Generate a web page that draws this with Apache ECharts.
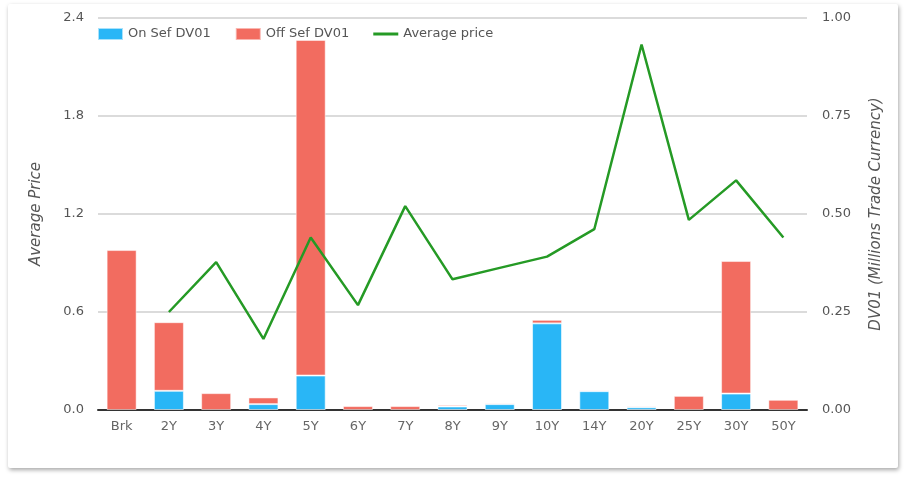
<!DOCTYPE html>
<html>
<head>
<meta charset="utf-8">
<script src="https://cdn.jsdelivr.net/npm/echarts@6/dist/echarts.min.js"></script>
<style>
  html, body { margin:0; padding:0; background:#fff; }
  #card { position:absolute; left:8px; top:4px; width:890px; height:464px; background:#fff;
          border-radius:2px; box-shadow: 1px 2px 4px rgba(0,0,0,0.35); }
  #chart { width:890px; height:464px; }
</style>
</head>
<body>
<div id="card"><div id="chart"></div></div>
<script>
var categories = ['Brk','2Y','3Y','4Y','5Y','6Y','7Y','8Y','9Y','10Y','14Y','20Y','25Y','30Y','50Y'];
// DV01, millions of trade currency
var onSef  = ['-', 0.049, '-', 0.015, 0.088, '-', '-', 0.009, 0.015, 0.221, 0.048, 0.007, '-', 0.042, '-'];
var offSef = [0.408, 0.175, 0.043, 0.017, 0.856, 0.010, 0.010, 0.004, 0.003, 0.009, 0.003, 0.003, 0.036, 0.338, 0.026];
// average price, first bucket has none
var avgPrice = ['-', 0.60, 0.905, 0.435, 1.056, 0.642, 1.248, 0.80, 0.87, 0.939, 1.107, 2.238, 1.164, 1.406, 1.056];

var leftTicks = { min: 0, max: 2.4, interval: 0.6 };
var rightTicks = { min: 0, max: 1, interval: 0.25 };

var font = 'DejaVu Sans';
var myChart = echarts.init(document.getElementById('chart'));
var option = {
    animation: false,
    textStyle: { fontFamily: font },
    legend: {
        left: 84, top: 18,
        itemWidth: 25, itemHeight: 12, itemGap: 24,
        textStyle: { fontFamily: font, fontSize: 13, color: '#555' },
        data: [
            { name: 'On Sef DV01', icon: 'rect' },
            { name: 'Off Sef DV01', icon: 'rect' },
            { name: 'Average price', icon: 'path://M0,0L25,0L25,3L0,3Z' }
        ]
    },
    grid: { left: 90, right: 91, top: 14, bottom: 58 },
    xAxis: {
        type: 'category',
        data: categories,
        axisTick: { show: false },
        axisLine: { lineStyle: { color: '#333', width: 2 } },
        axisLabel: { color: '#666', fontSize: 13, margin: 10, fontFamily: font }
    },
    yAxis: [
        {
            type: 'value',
            name: 'Average Price',
            nameLocation: 'middle',
            nameGap: 54,
            nameTextStyle: { fontStyle: 'italic', fontSize: 15, color: '#555', fontFamily: font },
            min: leftTicks.min, max: leftTicks.max, interval: leftTicks.interval,
            axisLine: { show: false },
            axisTick: { show: false },
            axisLabel: { color: '#555', fontSize: 13, margin: 14, fontFamily: font,
                formatter: function (v) { return v.toFixed(1); } },
            splitLine: { lineStyle: { color: '#cfcfcf', width: 1.5 } }
        },
        {
            type: 'value',
            name: 'DV01 (Millions Trade Currency)',
            nameLocation: 'middle',
            nameGap: 62,
            nameRotate: 90,
            nameTextStyle: { fontStyle: 'italic', fontSize: 15, color: '#555', fontFamily: font },
            min: rightTicks.min, max: rightTicks.max, interval: rightTicks.interval,
            axisLine: { show: false },
            axisTick: { show: false },
            axisLabel: { color: '#555', fontSize: 13, margin: 15, fontFamily: font,
                formatter: function (v) { return v.toFixed(2); } },
            splitLine: { show: false }
        }
    ],
    series: [
        {
            name: 'On Sef DV01', type: 'bar', stack: 'dv01', yAxisIndex: 1,
            barWidth: 30,
            itemStyle: { color: '#29b6f6', borderColor: 'rgba(255,255,255,0.6)', borderWidth: 1 },
            data: onSef
        },
        {
            name: 'Off Sef DV01', type: 'bar', stack: 'dv01', yAxisIndex: 1,
            barWidth: 30,
            itemStyle: { color: '#f26c60', borderColor: 'rgba(255,255,255,0.5)', borderWidth: 1 },
            data: offSef
        },
        {
            name: 'Average price', type: 'line', yAxisIndex: 0,
            symbol: 'none',
            lineStyle: { color: '#259a25', width: 2.5 },
            itemStyle: { color: '#259a25' },
            data: avgPrice
        }
    ]
};
myChart.setOption(option);
</script>
</body>
</html>
